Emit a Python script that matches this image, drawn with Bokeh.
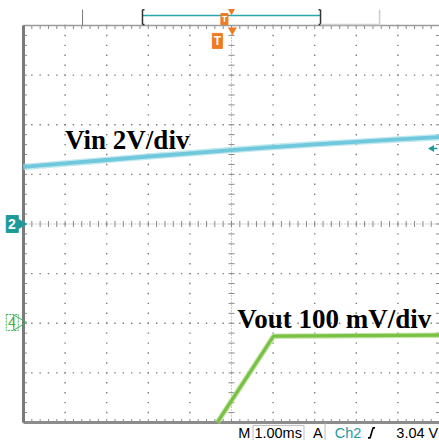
import numpy as np
from bokeh.plotting import figure
from bokeh.models import Range1d
from bokeh.embed import file_html
from bokeh.resources import INLINE
from bokeh.core.properties import value

# ---- data (time in ms, 1.00 ms/div, trigger at t = 0) ----
vin_t = [-5, -4, -3, -2, -1, 0, 1, 2, 3, 4, 5]
vin_v = [2.30, 2.44, 2.58, 2.72, 2.85, 2.98, 3.10, 3.21, 3.31, 3.41, 3.50]   # volts, 2 V/div
vout_t = [-0.34, 1.01, 3.0, 5.0]
vout_mv = [-200, -26, -25, -24]   # mV relative to ch4 marker, 100 mV/div
trigger_level = 3.04
vin_label = "Vin 2V/div"
vout_label = "Vout 100 mV/div"
status_texts = ["M", "1.00ms", "A", "Ch2", "3.04 V"]

# ---- view: x in ms, y in divisions (ch2 ground = 0 div, ch4 ground = -2 div) ----
X0, X1 = -5.553, 5.0
Y0, Y1 = -4.363, 4.504
W, H = 439, 440
pxx = (X1 - X0) / W   # ms per px
pxy = (Y1 - Y0) / H   # div per px

p = figure(width=W, height=H, x_range=Range1d(X0, X1), y_range=Range1d(Y0, Y1),
           x_axis_type=None, y_axis_type=None, toolbar_location=None,
           output_backend="svg", min_border=0, outline_line_color=None,
           background_fill_color="white", border_fill_color="white")
p.grid.visible = False
p.extra_y_ranges = {
    "vin": Range1d(Y0 * 2.0, Y1 * 2.0),
    "vout": Range1d((Y0 + 2) * 100.0, (Y1 + 2) * 100.0),
}

GRID = "#7a7a7a"
# ---- graticule ----
minor_y = np.round(np.arange(-4, 4.001, 0.2), 3)
minor_x = np.round(np.arange(-5, 5.001, 0.2), 3)
for gx in [-4, -3, -2, -1, 1, 2, 3, 4]:
    p.scatter(x=[gx] * len(minor_y), y=minor_y, marker="square", size=1.4,
              color=GRID, line_color=None)
for gy in [-3, -2, -1, 1, 2, 3]:
    p.scatter(x=minor_x, y=[gy] * len(minor_x), marker="square", size=1.4,
              color=GRID, line_color=None)
# centre lines
p.line(x=[-5, 5], y=[0, 0], line_color="#999999", line_width=1, line_dash="1 2")
p.line(x=[0, 0], y=[-4, 4], line_color="#999999", line_width=1, line_dash="1 2")
tx = 3 * pxx
ty = 3 * pxy
p.segment(x0=minor_x, y0=[-ty] * len(minor_x), x1=minor_x, y1=[ty] * len(minor_x),
          line_color="#8a8a8a", line_width=1)
p.segment(x0=[-tx] * len(minor_y), y0=minor_y, x1=[tx] * len(minor_y), y1=minor_y,
          line_color="#8a8a8a", line_width=1)
# border ticks
bt_y = 3.5 * pxy
bt_x = 3.5 * pxx
p.segment(x0=minor_x, y0=[4] * len(minor_x), x1=minor_x, y1=[4 - bt_y] * len(minor_x),
          line_color="#8a8a8a", line_width=1)
p.segment(x0=minor_x, y0=[-4] * len(minor_x), x1=minor_x, y1=[-4 + bt_y] * len(minor_x),
          line_color="#8a8a8a", line_width=1)
p.segment(x0=[-5] * len(minor_y), y0=minor_y, x1=[-5 + bt_x] * len(minor_y), y1=minor_y,
          line_color="#8a8a8a", line_width=1)
p.segment(x0=[5] * len(minor_y), y0=minor_y, x1=[5 - bt_x] * len(minor_y), y1=minor_y,
          line_color="#8a8a8a", line_width=1)
# borders
p.line(x=[-5, 5], y=[4, 4], line_color="#9a9a9a", line_width=1.5)
p.line(x=[-5, 5], y=[-4, -4], line_color="#8c8c8c", line_width=3)
p.line(x=[-5, -5], y=[-4, 4], line_color="#7a7a7a", line_width=3)
p.line(x=[5, 5], y=[-4, 4], line_color="#b0b0b0", line_width=1)

# ---- traces ----
p.line(x=vin_t, y=vin_v, y_range_name="vin", line_color="#a8deea", line_width=6.5, line_alpha=0.7)
p.line(x=vin_t, y=vin_v, y_range_name="vin", line_color="#6fc8dc", line_width=3.8)
p.line(x=vout_t, y=vout_mv, y_range_name="vout", line_color="#b0dc8a", line_width=5.5, line_alpha=0.7)
p.line(x=vout_t, y=vout_mv, y_range_name="vout", line_color="#78c142", line_width=3.2)

# ---- trace labels ----
p.text(x=[-4.0], y=[1.70], text=[vin_label], text_font=value("Liberation Serif"),
       text_font_style="bold", text_font_size="27px", text_color="black",
       text_baseline="alphabetic", text_align="left")
p.text(x=[0.14], y=[-1.92], text=[vout_label], text_font=value("Liberation Serif"),
       text_font_style="bold", text_font_size="27px", text_color="black",
       text_baseline="alphabetic", text_align="left")

# ---- top record bar ----
TEAL = "#2aa8a8"
ORANGE = "#f07a22"
bar_y = 4.20
p.line(x=[-2.14, 2.14], y=[bar_y, bar_y], line_color=TEAL, line_width=1.5)
p.segment(x0=[-2.14, 2.14], y0=[4.32, 4.32], x1=[-2.14, 2.14], y1=[4.02, 4.02],
          line_color="#333333", line_width=1.5)
p.segment(x0=[-2.14, -2.14, 2.14, 2.14], y0=[4.32, 4.02, 4.32, 4.02],
          x1=[-2.14 + 2 * pxx, -2.14 + 2 * pxx, 2.14 - 2 * pxx, 2.14 - 2 * pxx],
          y1=[4.32, 4.02, 4.32, 4.02], line_color="#333333", line_width=1.5)
p.segment(x0=[-3.58], y0=[4.32], x1=[-3.58], y1=[4.0], line_color="#777777", line_width=1)
p.segment(x0=[3.56], y0=[4.32], x1=[3.56], y1=[4.0], line_color="#cccccc", line_width=1.5)
p.line(x=[2.14, 3.56], y=[4.02, 4.02], line_color="#d0d0d0", line_width=1.5)
# trigger position markers
p.rect(x=[-0.17], y=[4.13], width=7, height=11, width_units="screen", height_units="screen",
       fill_color=ORANGE, line_color=ORANGE)
p.text(x=[-0.17], y=[4.13], text=["T"], text_font=value("Liberation Sans"),
       text_font_style="bold", text_font_size="9px", text_color="white",
       text_align="center", text_baseline="middle")
p.scatter(x=[0.0], y=[4.29], marker="inverted_triangle", size=7, color=ORANGE, line_color=None)
p.scatter(x=[0.02], y=[3.91], marker="inverted_triangle", size=9, color=ORANGE, line_color=None)
p.rect(x=[-0.34], y=[3.69], width=10, height=15, width_units="screen", height_units="screen",
       fill_color=ORANGE, line_color=ORANGE)
p.text(x=[-0.34], y=[3.69], text=["T"], text_font=value("Liberation Sans"),
       text_font_style="bold", text_font_size="12px", text_color="white",
       text_align="center", text_baseline="middle")

# ---- channel markers ----
GREEN = "#3fb35a"
p.rect(x=[-5.27], y=[0.0], width=12, height=17, width_units="screen", height_units="screen",
       fill_color="#1f9a9a", line_color="#1f9a9a")
p.scatter(x=[-5.13], y=[0.0], marker="triangle", angle=-np.pi / 2, size=16,
          color="#1f9a9a", line_color=None)
p.text(x=[-5.28], y=[0.0], text=["2"], text_font=value("Liberation Sans"),
       text_font_style="bold", text_font_size="14px", text_color="white",
       text_align="center", text_baseline="middle")
p.rect(x=[-5.27], y=[-1.985], width=12, height=16, width_units="screen", height_units="screen",
       fill_color=None, line_color=GREEN, line_dash="2 1", line_width=1)
p.scatter(x=[-5.13], y=[-1.985], marker="triangle", angle=-np.pi / 2, size=15,
          fill_color=None, line_color=GREEN, line_width=1)
p.text(x=[-5.28], y=[-1.985], text=["4"], text_font=value("Liberation Sans"),
       text_font_size="14px", text_color=GREEN,
       text_align="center", text_baseline="middle")
# trigger level marker (right edge, on ch2 scale)
p.scatter(x=[4.82], y=[trigger_level], y_range_name="vin", marker="triangle",
          angle=np.pi / 2, size=7, color="#1f9a9a", line_color=None)
p.segment(x0=[4.82], y0=[trigger_level], x1=[4.95], y1=[trigger_level], y_range_name="vin",
          line_color="#1f9a9a", line_width=1.5)

# ---- status bar ----
sy = -4.21
p.rect(x=[1.13], y=[sy - 0.05], width=51, height=20, width_units="screen", height_units="screen",
       fill_color=None, line_color="#bbbbbb", line_width=1)
p.segment(x0=[2.25], y0=[sy - 0.2], x1=[2.25], y1=[sy + 0.2], line_color="#bbbbbb", line_width=1)
st_x = [0.16, 0.55, 1.96, 2.48, 4.97]
st_align = ["left", "left", "left", "left", "right"]
st_col = ["black", "black", "black", "#1f9aa0", "black"]
p.text(x=st_x, y=[sy] * 5, text=status_texts, text_font=value("Liberation Sans"),
       text_font_size="14.5px", text_color=st_col, text_align=st_align,
       text_baseline="middle")
# rising-edge symbol
ex = 3.33
p.line(x=[ex - 2 * pxx, ex, ex + 3 * pxx, ex + 5 * pxx],
       y=[sy - 5 * pxy, sy - 5 * pxy, sy + 5 * pxy, sy + 5 * pxy],
       line_color="black", line_width=1.6)

open("out.html", "w").write(file_html(p, INLINE))
